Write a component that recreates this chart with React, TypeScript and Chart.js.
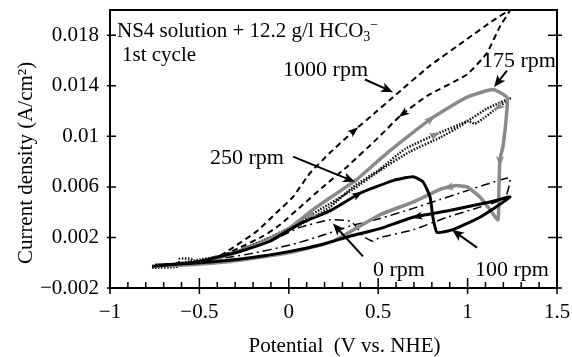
import React, { useEffect, useRef } from "react";
import { Chart, registerables } from "chart.js";

Chart.register(...registerables);

// ---- axes / ticks ----
const xTickValues = [-1, -0.5, 0, 0.5, 1, 1.5];
const xMinorStep = 0.1;
const yTickValues = [-0.002, 0.002, 0.006, 0.01, 0.014, 0.018];

// ---- series (potential V vs. NHE, current density A/cm2), forward then reverse scan ----
const rpm1000X = [-0.765, -0.553, -0.441, -0.312, -0.178, -0.066, 0.023, 0.119, 0.23, 0.353, 0.493, 0.583, 0.79, 0.997, 1.125, 1.237, 1.181, 1.108, 0.997, 0.773, 0.622, 0.493, 0.326, 0.191, 0.063, -0.049, -0.144, -0.273, -0.385, -0.553, -0.748];
const rpm1000Y = [-0.0003, -0.0001, 0.0001, 0.0012, 0.0025, 0.004, 0.0052, 0.0071, 0.0087, 0.0103, 0.012, 0.0131, 0.0156, 0.0177, 0.019, 0.02, 0.0187, 0.0166, 0.0149, 0.0132, 0.0116, 0.0098, 0.0076, 0.006, 0.0044, 0.003, 0.0021, 0.0012, 0.0005, 0.0, -0.0002];

const rpm175X = [-0.765, -0.497, -0.273, -0.122, -0.01, 0.135, 0.381, 0.51, 0.622, 0.806, 0.997, 1.142, 1.22, 1.22, 1.198, 1.181, 1.175, 1.17, 1.125, 1.069, 0.997, 0.93, 0.846, 0.695, 0.51, 0.247, 0.007, -0.329, -0.608, -0.748];
const rpm175Y = [-0.0003, 0.0, 0.0009, 0.0018, 0.0026, 0.0042, 0.0066, 0.0082, 0.0095, 0.0115, 0.0131, 0.0137, 0.0131, 0.0121, 0.0092, 0.0082, 0.0058, 0.0034, 0.0042, 0.0052, 0.006, 0.0061, 0.0058, 0.0048, 0.0038, 0.0017, 0.0008, 0.0001, -0.0002, -0.0002];

const rpm250X = [-0.765, -0.62, -0.61, -0.545, -0.535, -0.497, -0.273, -0.105, 0.063, 0.23, 0.359, 0.51, 0.65, 0.829, 0.997, 1.108, 1.237, 1.142, 1.086, 1.041, 1.002, 0.958, 0.846, 0.678, 0.51, 0.359, 0.174, 0.007, -0.161, -0.329, -0.553, -0.748];
const rpm250Y = [-0.0004, -0.0003, 0.0003, 0.0003, -0.0001, 0.0001, 0.001, 0.002, 0.003, 0.0044, 0.006, 0.0074, 0.009, 0.0102, 0.0112, 0.0122, 0.013, 0.012, 0.0114, 0.011, 0.0112, 0.0108, 0.0099, 0.0088, 0.0073, 0.0058, 0.0042, 0.0028, 0.0016, 0.0007, 0.0001, -0.0003];

const rpm100X = [-0.765, -0.497, -0.273, -0.105, 0.063, 0.23, 0.398, 0.583, 0.695, 0.751, 0.79, 0.806, 0.829, 0.913, 1.069, 1.237, 1.125, 0.885, 0.695, 0.51, 0.342, 0.174, 0.007, -0.217, -0.497, -0.748];
const rpm100Y = [-0.0003, 0.0001, 0.0009, 0.0017, 0.0031, 0.0041, 0.0055, 0.0065, 0.0068, 0.0064, 0.0052, 0.0036, 0.0024, 0.0026, 0.0036, 0.0052, 0.0048, 0.0041, 0.0036, 0.0027, 0.0021, 0.0014, 0.0009, 0.0004, 0.0, -0.0002];

const rpm0X = [-0.765, -0.497, -0.273, -0.105, 0.063, 0.23, 0.342, 0.381, 0.415, 0.471, 0.51, 0.695, 0.885, 1.069, 1.209, 1.237, 1.125, 0.974, 0.846, 0.695, 0.51, 0.342, 0.174, 0.007, -0.217, -0.497, -0.748];
const rpm0Y = [-0.0003, 0.0001, 0.0009, 0.0017, 0.0028, 0.0034, 0.0033, 0.0028, 0.0021, 0.0017, 0.002, 0.0026, 0.0036, 0.0044, 0.0051, 0.0067, 0.0063, 0.0056, 0.005, 0.0043, 0.0035, 0.0029, 0.0021, 0.0014, 0.0007, 0.0001, -0.0002];

// ---- text ----
const seriesNames = ["100 rpm", "175 rpm", "250 rpm", "0 rpm", "1000 rpm"];
const titleMain = "NS4 solution + 12.2 g/l HCO";
const titleSub = "3";
const titleSup = "\u2212";
const subtitle = "1st cycle";
const xAxisTitle = "Potential  (V vs. NHE)";
const yAxisTitle = "Current density (A/cm\u00B2)";

// label anchors (data coords, left / baseline)
const labelX = [1.041, 1.08, -0.441, 0.471, -0.032];
const labelY = [-0.00105, 0.0155, 0.0078, -0.00105, 0.0148];
// pointer arrows from labels (data coords)
const pointerFromX = [1.053, 1.22, 0.024, 0.415, 0.426];
const pointerFromY = [0.0012, 0.0152, 0.0084, 0.0005, 0.0145];
const pointerToX = [0.913, 1.148, 0.37, 0.247, 0.583];
const pointerToY = [0.0026, 0.0139, 0.0064, 0.0031, 0.0135];

const FONT = "'Liberation Serif', 'Times New Roman', serif";
const GRAY = "#8a8a8a";

const seriesData = [
  { x: rpm100X, y: rpm100Y, color: "#000", width: 3, dash: [] as number[] },
  { x: rpm175X, y: rpm175Y, color: GRAY, width: 3.5, dash: [] as number[] },
  { x: rpm250X, y: rpm250Y, color: "#111", width: 2.5, dash: [1.5, 1.5] },
  { x: rpm0X, y: rpm0Y, color: "#000", width: 1.5, dash: [9, 4, 2, 4] },
  { x: rpm1000X, y: rpm1000Y, color: "#000", width: 2, dash: [6, 4] },
];

// direction arrowheads on curves: series index, segment index, fraction, colour
const curveArrows = [
  { s: 4, i: 9, f: 0.1, c: "#000" },
  { s: 4, i: 19, f: 0.9, c: "#000" },
  { s: 1, i: 8, f: 0.95, c: GRAY },
  { s: 1, i: 15, f: 0.1, c: GRAY },
  { s: 1, i: 21, f: 0.5, c: GRAY },
  { s: 2, i: 12, f: 0.95, c: GRAY },
  { s: 2, i: 16, f: 0.7, c: GRAY },
  { s: 2, i: 26, f: 0.33, c: GRAY },
  { s: 0, i: 5, f: 0.95, c: "#000" },
  { s: 0, i: 17, f: 0.9, c: "#000" },
];

function fmt(v: number) {
  return v < 0 ? "\u2212" + String(Math.abs(v)) : String(v);
}

function head(ctx: CanvasRenderingContext2D, x: number, y: number, ang: number, len: number, wid: number, color: string) {
  ctx.save();
  ctx.translate(x, y);
  ctx.rotate(ang);
  ctx.beginPath();
  ctx.moveTo(0, 0);
  ctx.lineTo(-len, wid / 2);
  ctx.lineTo(-len * 0.75, 0);
  ctx.lineTo(-len, -wid / 2);
  ctx.closePath();
  ctx.fillStyle = color;
  ctx.fill();
  ctx.restore();
}

const decorPlugin = {
  id: "decor",
  afterDraw(chart: any) {
    const { ctx, chartArea: a, scales } = chart;
    const px = (v: number) => scales.x.getPixelForValue(v);
    const py = (v: number) => scales.y.getPixelForValue(v);
    ctx.save();

    // arrowheads on curves
    curveArrows.forEach((ar) => {
      const d = seriesData[ar.s];
      const x1 = px(d.x[ar.i]), y1 = py(d.y[ar.i]);
      const x2 = px(d.x[ar.i + 1]), y2 = py(d.y[ar.i + 1]);
      const ang = Math.atan2(y2 - y1, x2 - x1);
      const x = x1 + (x2 - x1) * ar.f, y = y1 + (y2 - y1) * ar.f;
      head(ctx, x + Math.cos(ang) * 5, y + Math.sin(ang) * 5, ang, 11, 8, ar.c);
    });

    // pointer arrows
    ctx.strokeStyle = "#000";
    ctx.lineWidth = 2;
    ctx.setLineDash([]);
    for (let k = 0; k < pointerFromX.length; k++) {
      const x1 = px(pointerFromX[k]), y1 = py(pointerFromY[k]);
      const x2 = px(pointerToX[k]), y2 = py(pointerToY[k]);
      const ang = Math.atan2(y2 - y1, x2 - x1);
      ctx.beginPath();
      ctx.moveTo(x1, y1);
      ctx.lineTo(x2 - Math.cos(ang) * 6, y2 - Math.sin(ang) * 6);
      ctx.stroke();
      head(ctx, x2, y2, ang, 12, 10, "#000");
    }

    // frame
    ctx.strokeStyle = "#000";
    ctx.lineWidth = 2;
    ctx.strokeRect(a.left, a.top, a.right - a.left, a.bottom - a.top);

    // x ticks (minor inward, major crossing)
    ctx.lineWidth = 1.5;
    ctx.beginPath();
    const xMin = xTickValues[0], xMax = xTickValues[xTickValues.length - 1];
    const nMinor = Math.round((xMax - xMin) / xMinorStep);
    for (let k = 0; k <= nMinor; k++) {
      const X = px(xMin + k * xMinorStep);
      if (k % 5 === 0) {
        ctx.moveTo(X, a.bottom + 6);
        ctx.lineTo(X, a.bottom - 10);
      } else {
        ctx.moveTo(X, a.bottom);
        ctx.lineTo(X, a.bottom - 6);
      }
    }
    // y ticks on left and right
    yTickValues.forEach((v) => {
      const Y = py(v);
      ctx.moveTo(a.left - 3, Y);
      ctx.lineTo(a.left + 6, Y);
      ctx.moveTo(a.right - 9, Y);
      ctx.lineTo(a.right + 5, Y);
    });
    ctx.stroke();

    // texts
    ctx.fillStyle = "#000";
    ctx.textAlign = "left";
    ctx.textBaseline = "alphabetic";
    ctx.font = `21px ${FONT}`;
    let tx = px(-0.961), ty = py(0.0179);
    ctx.fillText(titleMain, tx, ty);
    tx += ctx.measureText(titleMain).width;
    ctx.font = `14px ${FONT}`;
    ctx.fillText(titleSub, tx, ty + 4);
    const w3 = ctx.measureText(titleSub).width;
    ctx.fillText(titleSup, tx + w3, ty - 8);
    ctx.font = `21px ${FONT}`;
    ctx.fillText(subtitle, px(-0.933), py(0.016));

    ctx.font = `22px ${FONT}`;
    for (let k = 0; k < seriesNames.length; k++) {
      ctx.fillText(seriesNames[k], px(labelX[k]), py(labelY[k]));
    }

    // axis titles
    ctx.font = `21px ${FONT}`;
    ctx.textAlign = "center";
    ctx.fillText(xAxisTitle, (a.left + a.right) / 2 + 11, 352);
    ctx.save();
    ctx.translate(32, 163);
    ctx.rotate(-Math.PI / 2);
    ctx.fillText(yAxisTitle, 0, 0);
    ctx.restore();

    ctx.restore();
  },
};

export default function App() {
  const ref = useRef<HTMLCanvasElement | null>(null);
  useEffect(() => {
    document.body.style.margin = "0";
    const canvas = ref.current!;
    const chart = new Chart(canvas, {
      type: "line",
      data: {
        datasets: seriesData.map((d, k) => ({
          label: seriesNames[k],
          data: d.x.map((x, i) => ({ x, y: d.y[i] })),
          borderColor: d.color,
          borderWidth: d.width,
          borderDash: d.dash,
          fill: false,
          tension: 0.15,
          pointRadius: 0,
          borderCapStyle: "butt",
          borderJoinStyle: "round",
        })),
      },
      options: {
        animation: false,
        responsive: false,
        maintainAspectRatio: false,
        devicePixelRatio: 1,
        layout: { padding: { left: 0, right: 15, top: 10, bottom: 0 } },
        plugins: { legend: { display: false }, tooltip: { enabled: false } },
        scales: {
          x: {
            type: "linear",
            min: -1,
            max: 1.5,
            grid: { display: false },
            border: { display: false },
            afterBuildTicks: (s: any) => {
              s.ticks = xTickValues.map((v) => ({ value: v }));
            },
            afterFit: (s: any) => {
              s.height = 69;
              s.paddingLeft = 0;
              s.paddingRight = 0;
            },
            ticks: {
              font: { family: FONT, size: 21 },
              color: "#000",
              padding: 4,
              maxRotation: 0,
              autoSkip: false,
              callback: (v: any) => fmt(Number(v)),
            },
          },
          y: {
            type: "linear",
            min: -0.002,
            max: 0.02,
            grid: { display: false },
            border: { display: false },
            afterBuildTicks: (s: any) => {
              s.ticks = yTickValues.map((v) => ({ value: v }));
            },
            afterFit: (s: any) => {
              s.width = 110;
              s.paddingTop = 0;
              s.paddingBottom = 0;
            },
            ticks: {
              font: { family: FONT, size: 21 },
              color: "#000",
              padding: 3,
              autoSkip: false,
              callback: (v: any) => fmt(Number(v)),
            },
          },
        },
      } as any,
      plugins: [decorPlugin],
    });
    return () => chart.destroy();
  }, []);
  return (
    <div style={{ width: 572, height: 357, background: "#fff" }}>
      <canvas ref={ref} width={572} height={357} style={{ display: "block" }} />
    </div>
  );
}
